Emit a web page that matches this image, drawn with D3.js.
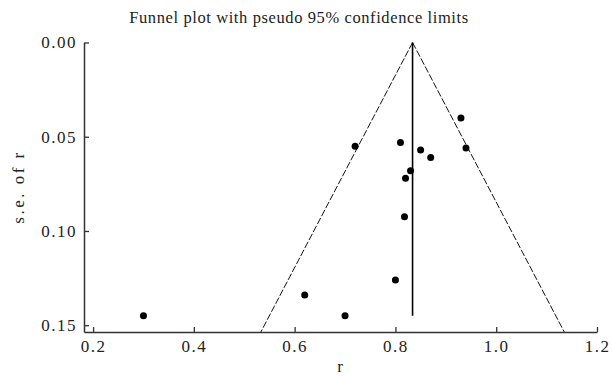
<!DOCTYPE html>
<html>
<head>
<meta charset="utf-8">
<script src="https://cdn.jsdelivr.net/npm/d3@7"></script>
<style>
  body { margin: 0; background: #fff; }
  text { font-family: "Liberation Serif", "DejaVu Serif", serif; fill: #222; }
</style>
</head>
<body>
<svg width="613" height="376"></svg>
<script>
// study effect sizes (r) and their standard errors
var rValues = [0.30, 0.62, 0.70, 0.80, 0.818, 0.72, 0.81, 0.85, 0.87, 0.83, 0.82, 0.93, 0.94];
var seValues = [0.145, 0.134, 0.145, 0.126, 0.0925, 0.055, 0.053, 0.057, 0.061, 0.068, 0.072, 0.040, 0.056];
var pooled = 0.834;
var seMax = 0.1536;
var xTicks = [0.2, 0.4, 0.6, 0.8, 1.0, 1.2];
var yTicks = [0.00, 0.05, 0.10, 0.15];

var svg = d3.select("svg");
var fontFam = "'Liberation Serif', 'DejaVu Serif', serif";

var x = d3.scaleLinear().domain([0.182, 1.2]).range([84, 597]);
var y = d3.scaleLinear().domain([0, seMax]).range([42.5, 332]);

var points = rValues.map((r, i) => ({ r: r, se: seValues[i] }));

// pseudo 95% limits
var funnel = [
    [[pooled, 0], [pooled - 1.96 * seMax, seMax]],
    [[pooled, 0], [pooled + 1.96 * seMax, seMax]]
];
svg.append("g").selectAll("line")
    .data(funnel)
    .enter()
    .append("line")
    .attr("x1", d => x(d[0][0]))
    .attr("y1", d => y(d[0][1]))
    .attr("x2", d => x(d[1][0]))
    .attr("y2", d => y(d[1][1]))
    .attr("stroke", "#111")
    .attr("stroke-width", 1)
    .attr("stroke-dasharray", "7,2")

// pooled estimate line
svg.append("line")
    .attr("x1", x(pooled))
    .attr("x2", x(pooled))
    .attr("y1", y(0))
    .attr("y2", y(d3.max(seValues)))
    .attr("stroke", "#000")
    .attr("stroke-width", 1.6)

// axes
var axisX = d3.axisBottom(x)
    .tickValues(xTicks)
    .tickFormat(d3.format(".1f"))
    .tickSizeInner(-5)
    .tickSizeOuter(0)
    .tickPadding(8);
var gx = svg.append("g").attr("transform", "translate(0,332)").call(axisX);

var axisY = d3.axisLeft(y)
    .tickValues(yTicks)
    .tickFormat(d3.format(".2f"))
    .tickSizeInner(-5)
    .tickSizeOuter(0)
    .tickPadding(7);
var gy = svg.append("g").attr("transform", "translate(84,0)").call(axisY);

[gx, gy].forEach(function(g) {
    g.attr("font-family", fontFam);
    g.select(".domain").attr("stroke", "#333").attr("stroke-width", 1.5);
    g.selectAll(".tick line").attr("stroke", "#333").attr("stroke-width", 1.3);
    g.selectAll(".tick text").attr("font-size", 17).attr("fill", "#222")
        .attr("letter-spacing", 1.5);
});

// points
svg.append("g")
    .selectAll("circle")
    .data(points)
    .enter()
    .append("circle")
    .attr("cx", d => x(d.r))
    .attr("cy", d => y(d.se))
    .attr("r", 3.5)
    .attr("fill", "#000")

// labels
svg.append("text")
    .attr("x", 299)
    .attr("y", 23)
    .attr("text-anchor", "middle")
    .attr("font-size", 16.5)
    .attr("letter-spacing", 0.6)
    .text("Funnel plot with pseudo 95% confidence limits")

svg.append("text")
    .attr("x", 340)
    .attr("y", 372)
    .attr("text-anchor", "middle")
    .attr("font-size", 17)
    .text("r")

svg.append("text")
    .attr("transform", "translate(24,187) rotate(-90)")
    .attr("text-anchor", "middle")
    .attr("font-size", 17)
    .attr("letter-spacing", 2.5)
    .text("s.e. of r")
</script>
</body>
</html>
